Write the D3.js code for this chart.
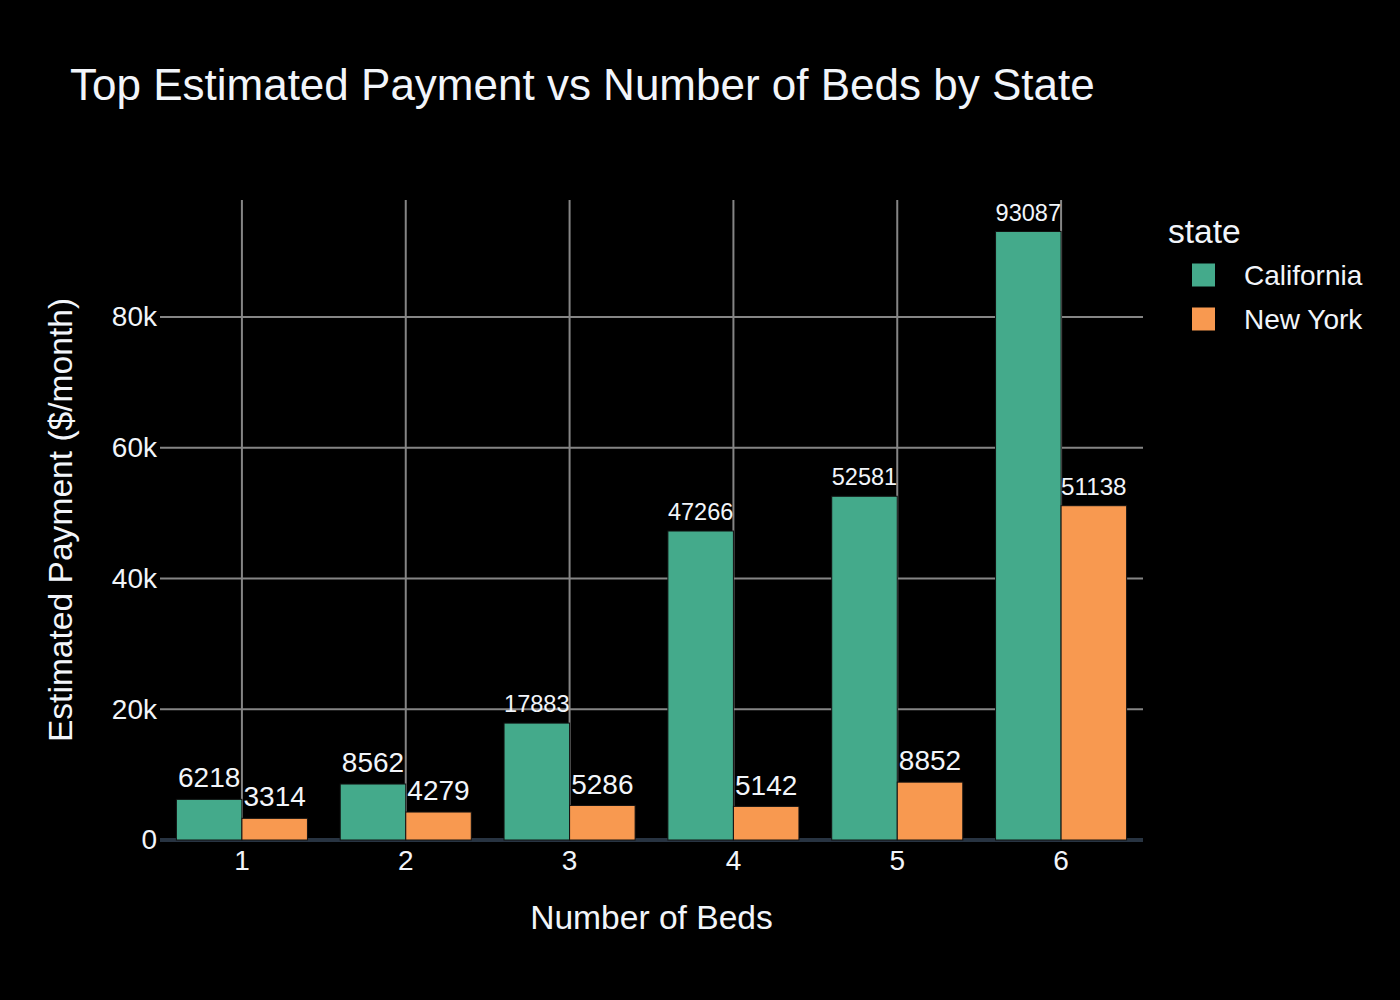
<!DOCTYPE html>
<html>
<head>
<meta charset="utf-8">
<script src="https://cdn.jsdelivr.net/npm/d3@7"></script>
<style>
html,body{margin:0;padding:0;background:#000;}
svg{display:block;}
text{font-family:"Liberation Sans",Arial,Helvetica,sans-serif;fill:#f2f5fa;}
</style>
</head>
<body>
<svg id="chart" width="1400" height="1000"></svg>
<script>
const beds = ["1","2","3","4","5","6"];
const seriesNames = ["California","New York"];
const california = [6218, 8562, 17883, 47266, 52581, 93087];
const newYork = [3314, 4279, 5286, 5142, 8852, 51138];
const seriesColors = ["#44aa8b", "#f89950"];
const yTicks = [0, 20000, 40000, 60000, 80000];
const yTickLabels = ["0", "20k", "40k", "60k", "80k"];
const yMax = 97900;

const W = 1400, H = 1000;
const m = {l:160, r:257, t:200, b:160};
const pw = W - m.l - m.r, ph = H - m.t - m.b;

const svg = d3.select("#chart");
svg.append("rect").attr("width", W).attr("height", H).attr("fill", "#000");

const x = d3.scaleBand().domain(beds).range([m.l, m.l + pw]).paddingInner(0).paddingOuter(0);
// group occupies 0.8 of each band (bargap 0.2)
const xs = d3.scaleBand().domain(seriesNames).range([0, x.bandwidth()]).paddingInner(0).paddingOuter(0.25);
const y = d3.scaleLinear().domain([0, yMax]).range([m.t + ph, m.t]);

const g = svg.append("g");

// grid
const gridG = g.append("g");
gridG.selectAll("line.vg").data(beds).enter().append("line")
  .attr("x1", d => x(d) + x.bandwidth()/2).attr("x2", d => x(d) + x.bandwidth()/2)
  .attr("y1", m.t).attr("y2", m.t + ph)
  .attr("stroke", "#858585").attr("stroke-width", 2);
gridG.selectAll("line.hg").data(yTicks.filter(v => v !== 0)).enter().append("line")
  .attr("x1", m.l).attr("x2", m.l + pw)
  .attr("y1", d => y(d)).attr("y2", d => y(d))
  .attr("stroke", "#858585").attr("stroke-width", 2);

// zero line
g.append("line").attr("x1", m.l).attr("x2", m.l + pw)
  .attr("y1", y(0)).attr("y2", y(0))
  .attr("stroke", "#283442").attr("stroke-width", 4);

// axes
const yAxis = d3.axisLeft(y).tickValues(yTicks).tickFormat((d,i) => yTickLabels[i]).tickSize(0).tickPadding(3);
const yAxG = g.append("g").attr("transform", `translate(${m.l},0)`).call(yAxis);
yAxG.select(".domain").remove();
yAxG.selectAll("text").attr("font-size", 28).attr("fill", "#f2f5fa")
  .attr("font-family", '"Liberation Sans",Arial,sans-serif');

const xAxis = d3.axisBottom(x).tickSize(0).tickPadding(10);
const xAxG = g.append("g").attr("transform", `translate(0,${m.t + ph})`).call(xAxis);
xAxG.select(".domain").remove();
xAxG.selectAll("text").attr("font-size", 28).attr("fill", "#f2f5fa")
  .attr("font-family", '"Liberation Sans",Arial,sans-serif');

// bars
const data = beds.map((b, i) => ({bed: b, vals: [california[i], newYork[i]]}));
const barsG = g.append("g");
const bw = xs.bandwidth();
data.forEach(d => {
  d.vals.forEach((v, j) => {
    const bx = x(d.bed) + xs(seriesNames[j]);
    barsG.append("rect")
      .attr("x", bx).attr("y", y(v))
      .attr("width", bw).attr("height", y(0) - y(v))
      .attr("fill", seriesColors[j])
      .attr("stroke", "#111").attr("stroke-width", 1);
    const t = barsG.append("text")
      .attr("x", bx + bw/2)
      .attr("text-anchor", "middle")
      .attr("font-size", 28)
      .text(v);
    const len = t.node().getComputedTextLength();
    let fs = 28;
    if (len > bw) fs = 28 * bw / len;
    t.attr("font-size", fs).attr("y", y(v) - 6 - 0.21 * fs);
  });
});

// titles
svg.append("text").attr("x", 70).attr("y", 100).attr("font-size", 44).text("Top Estimated Payment vs Number of Beds by State");
svg.append("text").attr("x", m.l + pw/2).attr("y", 929).attr("text-anchor", "middle").attr("font-size", 33.6).text("Number of Beds");
svg.append("text").attr("transform", `translate(72,${m.t + ph/2}) rotate(-90)`).attr("text-anchor", "middle").attr("font-size", 33.6).text("Estimated Payment ($/month)");

// legend
const lg = svg.append("g");
lg.append("text").attr("x", 1168).attr("y", 243).attr("font-size", 33.6).text("state");
seriesNames.forEach((s, i) => {
  const yy = 275 + i * 44;
  lg.append("rect").attr("x", 1192).attr("y", yy - 11.5).attr("width", 23).attr("height", 23).attr("fill", seriesColors[i]);
  lg.append("text").attr("x", 1244).attr("y", yy + 10).attr("font-size", 28).text(s);
});
</script>
</body>
</html>
